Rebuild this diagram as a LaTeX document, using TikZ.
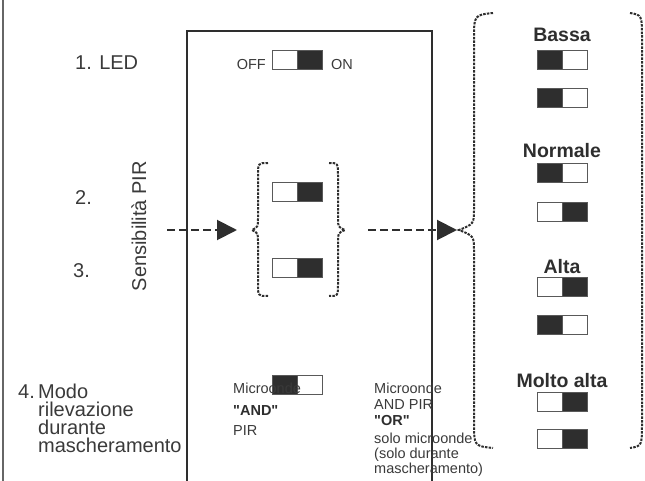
\documentclass[tikz,border=0pt]{standalone}
\usepackage{fontspec}
\setmainfont{Liberation Sans}[Ligatures=TeXOff]
\usetikzlibrary{arrows.meta}
\definecolor{ink}{HTML}{2E2E2E}
\definecolor{txt}{HTML}{3A3A3A}
\tikzset{
  big/.style={font=\fontsize{20}{20}\selectfont, inner sep=0pt, text=txt},
  small/.style={font=\fontsize{14.5}{15}\selectfont, inner sep=0pt, text=txt},
  smallbold/.style={small, font=\fontsize{14.5}{15}\selectfont\bfseries, text=ink},
  head/.style={font=\fontsize{19.5}{19.5}\selectfont\bfseries, inner sep=0pt, text=ink},
  half/.style={draw=gray!70!black, line width=0.8pt, minimum width=25pt, minimum height=19pt, inner sep=0pt, anchor=north west},
  swon/.style={half, fill=ink},
  swoff/.style={half, fill=white},
  flow/.style={draw=ink, line width=2pt, dash pattern=on 8pt off 4pt, -{Triangle[length=20pt,width=20pt]}},
  bracestyle/.style={draw=ink, line width=2pt, dash pattern=on 2.5pt off 1.2pt},
  panel/.style={draw=ink, line width=2pt},
}
\newcommand\swt[5]{%
  \node[#4] (#1l) at (#2,#3) {};
  \node[#5] (#1r) at (#2+25,#3) {};
}
\begin{document}
\begin{tikzpicture}[x=1pt,y=-1pt]
\useasboundingbox (0,0) rectangle (645,481);
% outer left line and main panel
\draw[gray!80!black, line width=1.3pt] (3,0) -- (3,481);
\draw[panel] (187,483) -- (187,31) -- (432,31) -- (432,483);

% 1. LED
\node[big, anchor=base west] (led) at (75,70) {1. LED};
\node[small, anchor=base east] (offl) at (266,70) {OFF};
\swt{sl}{272}{50}{swoff}{swon}
\node[small, anchor=base west] (onl) at (331,70) {ON};

% 2. 3. Sensibilita PIR
\node[big, anchor=base west] (n2) at (75,205) {2.};
\node[big, anchor=base west] (n3) at (73,277) {3.};
\node[big, anchor=base, rotate=90] (sens) at (146,226) {Sensibilità PIR};

\swt{p1}{272}{182}{swoff}{swon}
\swt{p2}{272}{258}{swoff}{swon}

% inner braces
\coordinate (pinL) at (252,230);
\coordinate (pinR) at (345,230);
\draw[bracestyle] (268,163) .. controls (258,163) .. (258,176) -- (258,218)
   .. controls (258,227) .. (pinL) .. controls (258,233) .. (258,242) -- (258,284)
   .. controls (258,296) .. (268,296);
\draw[bracestyle] (329,163) .. controls (338,163) .. (338,176) -- (338,218)
   .. controls (338,227) .. (pinR) .. controls (338,233) .. (338,242) -- (338,284)
   .. controls (338,296) .. (329,296);

% big braces
\coordinate (pinB) at (459,230);
\draw[bracestyle] (493,13) .. controls (474,15) .. (474,40) -- (474,208)
   .. controls (474,224) .. (pinB) .. controls (474,236) .. (474,252) -- (474,422)
   .. controls (474,446) .. (493,448);
\draw[bracestyle] (630,13) .. controls (642,15) .. (642,40) -- (642,422)
   .. controls (642,446) .. (630,448);

% arrows
\coordinate (a1) at (167,230);
\draw[flow] (a1) -- ([xshift=-15pt]pinL);
\draw[flow] ([xshift=23pt]pinR) -- ([xshift=-2pt]pinB);

% right column
\node[head, anchor=base] (hb) at (562,42) {Bassa};
\swt{b1}{537}{50}{swon}{swoff}
\swt{b2}{537}{88}{swon}{swoff}
\node[head, anchor=base] (hn) at (562,158) {Normale};
\swt{r1}{537}{163}{swon}{swoff}
\swt{r2}{537}{202}{swoff}{swon}
\node[head, anchor=base] (ha) at (562,273) {Alta};
\swt{h1}{537}{277}{swoff}{swon}
\swt{h2}{537}{315}{swon}{swoff}
\node[head, anchor=base] (hm) at (562,387) {Molto alta};
\swt{v1}{537}{392}{swoff}{swon}
\swt{v2}{537}{429}{swoff}{swon}

% 4. Modo
\node[big, anchor=base west] (m0) at (18,398) {4.};
\node[big, anchor=base west, align=left, font=\fontsize{20}{18}\selectfont] (m1) at (38,452)
  {Modo\\rilevazione\\durante\\mascheramento};

\swt{ms}{272}{375}{swon}{swoff}
\node[small, anchor=base west] (l1) at (233,393) {Microonde};
\node[smallbold, anchor=base west] (l2) at (233,415) {"AND"};
\node[small, anchor=base west] (l3) at (233,435) {PIR};

\node[small, anchor=base west] (r1t) at (374,393) {Microonde};
\node[small, anchor=base west] (r2t) at (374,409) {AND PIR};
\node[smallbold, anchor=base west] (r3t) at (374,425) {"OR"};
\node[small, anchor=base west] (r4t) at (374,443) {solo microonde};
\node[small, anchor=base west] (r5t) at (374,458) {(solo durante};
\node[small, anchor=base west] (r6t) at (374,473) {mascheramento)};
\end{tikzpicture}
\end{document}
